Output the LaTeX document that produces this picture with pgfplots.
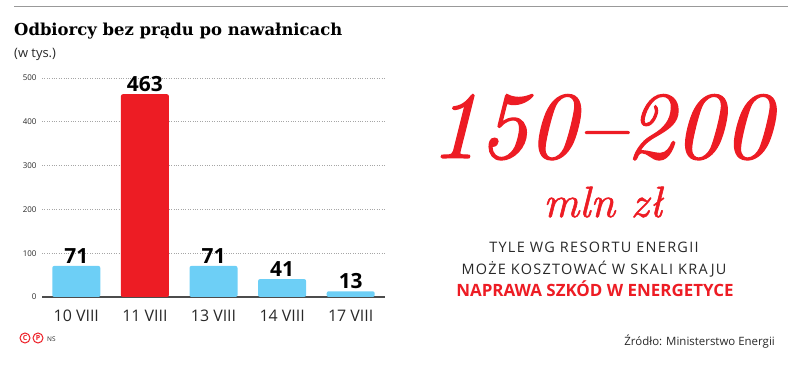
\documentclass[border=0pt]{standalone}
\usepackage{pgfplots}
\pgfplotsset{compat=1.18}
\usepackage{fontspec}
\newfontfamily\sans{Open Sans}
\newfontfamily\sansls{Open Sans}[LetterSpace=9]
\newfontfamily\titlefont{DejaVu Serif}
\newfontfamily\bigit{lmroman10-italic.otf}[FakeBold=1.2]
\definecolor{barblue}{RGB}{109,207,246}
\definecolor{barred}{RGB}{237,28,36}
\definecolor{txtgray}{RGB}{40,40,40}
\begin{document}
\begin{tikzpicture}
\useasboundingbox (0,0) rectangle (788bp,369bp);
\draw[gray!80, line width=1bp] (14bp,362bp) -- (788bp,362bp);
\node[anchor=base west, inner sep=0pt, font=\titlefont\bfseries\fontsize{16.5}{18}\selectfont] at (14bp,333bp) {Odbiorcy bez prądu po nawałnicach};
\node[anchor=base west, inner sep=0pt, font=\sans\fontsize{13}{15}\selectfont, text=txtgray] at (14bp,311bp) {(w tys.)};
\begin{axis}[
  at={(42bp,72bp)}, anchor=south west,
  width=343bp, height=219bp, scale only axis,
  xmin=-0.5, xmax=4.5, ymin=0, ymax=500,
  axis x line*=bottom, axis y line*=left,
  y axis line style={draw=none},
  x axis line style={draw=black!70, line width=1.5bp, -},
  xtick={0,1,2,3,4},
  xticklabels={10 VIII, 11 VIII, 13 VIII, 14 VIII, 17 VIII},
  xticklabel style={font=\sans\fontsize{16}{18}\selectfont, text=txtgray, yshift=-5bp},
  xtick style={draw=none},
  ytick={0,100,200,300,400,500},
  yticklabel style={font=\sans\fontsize{8}{10}\selectfont, text=txtgray, xshift=-2bp},
  ymajorgrids,
  grid style={dotted, gray!70, line width=0.8bp},
  ytick style={draw=none},
  /pgf/number format/assume math mode=true,
  ybar, bar width=48bp, bar shift=0pt,
  nodes near coords,
  every node near coord/.style={font=\sans\bfseries\fontsize{21}{23}\selectfont, text=black, yshift=-1bp},
  clip=false,
]
\addplot[fill=barblue, draw=none, rounded corners=2bp] coordinates {(0,71) (2,71) (3,41) (4,13)};
\addplot[fill=barred, draw=none, rounded corners=2bp] coordinates {(1,463)};
\end{axis}
\node[anchor=base, inner sep=0pt, text=barred, font=\bigit\fontsize{96}{100}\selectfont] at (601bp,211bp) {150–200};
\node[anchor=base, inner sep=0pt, text=barred, font=\bigit\fontsize{44}{48}\selectfont] at (603bp,152bp) {mln zł};
\node[anchor=base, inner sep=0pt, text=txtgray, font=\sansls\fontsize{14.5}{16}\selectfont] at (594bp,116bp) {TYLE WG RESORTU ENERGII};
\node[anchor=base, inner sep=0pt, text=txtgray, font=\sansls\fontsize{14.5}{16}\selectfont] at (594bp,94bp) {MOŻE KOSZTOWAĆ W SKALI KRAJU};
\node[anchor=base, inner sep=0pt, text=barred, font=\sans\bfseries\fontsize{17}{19}\selectfont] at (595bp,72bp) {NAPRAWA SZKÓD W ENERGETYCE};
\node[anchor=base east, inner sep=0pt, text=txtgray, font=\sans\fontsize{11.5}{13}\selectfont] at (775bp,24bp) {Źródło: Ministerstwo Energii};
\node[circle, draw=barred, line width=1bp, text=barred, inner sep=0pt, minimum size=10bp, font=\sans\bfseries\fontsize{7}{8}\selectfont] at (25bp,31bp) {C};
\node[circle, draw=barred, line width=1bp, text=barred, inner sep=0pt, minimum size=10bp, font=\sans\bfseries\fontsize{7}{8}\selectfont] at (38bp,31bp) {P};
\node[anchor=west, inner sep=0pt, text=txtgray, font=\sans\fontsize{6.5}{8}\selectfont] at (47bp,30bp) {NS};
\end{tikzpicture}
\end{document}
